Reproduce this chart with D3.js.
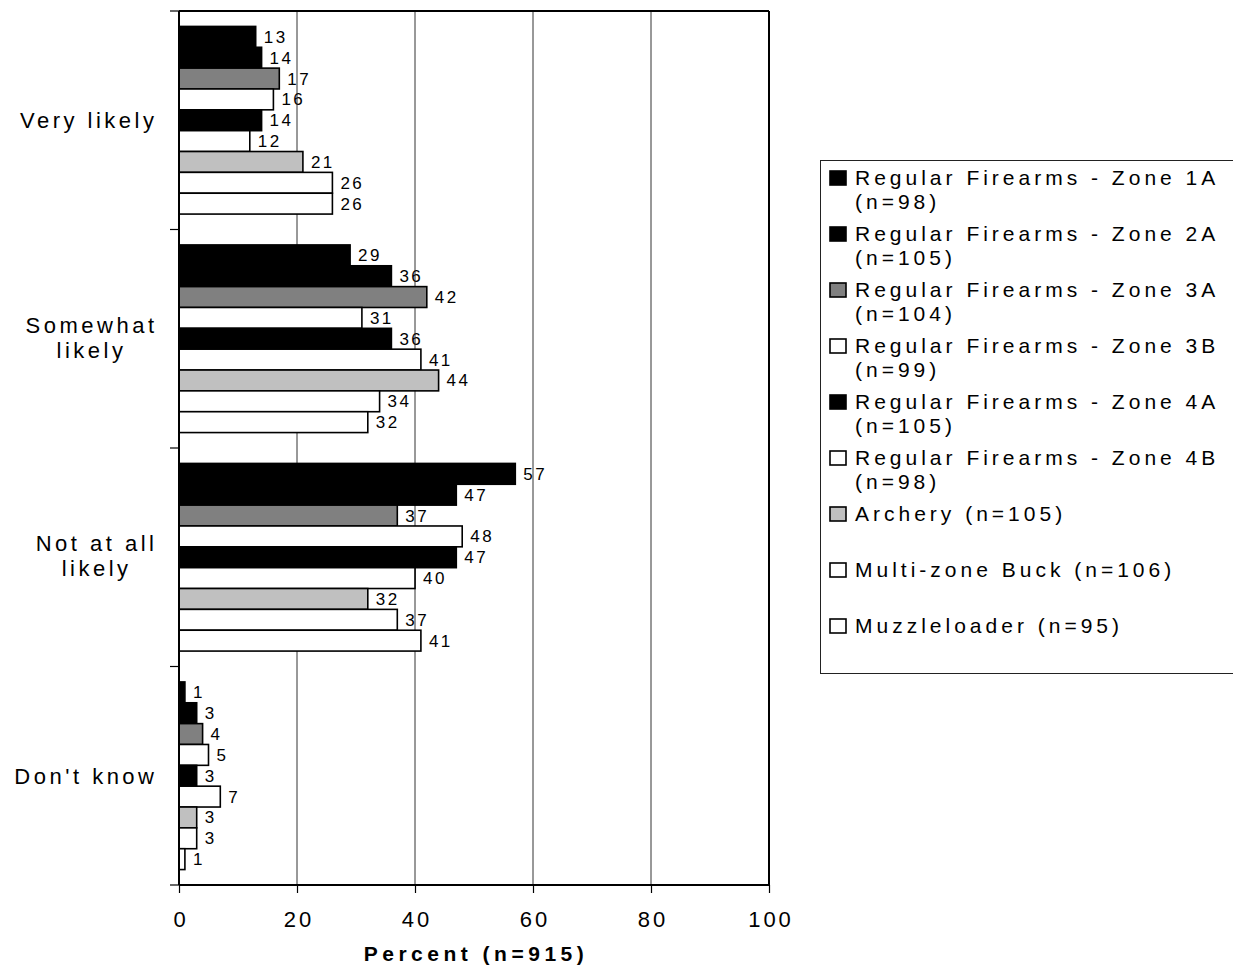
<!DOCTYPE html>
<html>
<head>
<meta charset="utf-8">
<script src="https://cdn.jsdelivr.net/npm/d3@7"></script>
<style>
  html, body { margin: 0; padding: 0; background: #fff; }
  svg { display: block; }
  text { font-family: Arial, "Liberation Sans", sans-serif; fill: #000; }
</style>
</head>
<body>
<svg id="chart" width="1233" height="967"></svg>
<script>
// ---- data ----
const categories = [["Very likely"], ["Somewhat", "likely"], ["Not at all", "likely"], ["Don't know"]];
const categoryKeys = ["Very likely", "Somewhat likely", "Not at all likely", "Don't know"];
const seriesNames = [
  "Regular Firearms - Zone 1A (n=98)",
  "Regular Firearms - Zone 2A (n=105)",
  "Regular Firearms - Zone 3A (n=104)",
  "Regular Firearms - Zone 3B (n=99)",
  "Regular Firearms - Zone 4A (n=105)",
  "Regular Firearms - Zone 4B (n=98)",
  "Archery (n=105)",
  "Multi-zone Buck (n=106)",
  "Muzzleloader (n=95)"
];
const zone1A = [13, 29, 57, 1];
const zone2A = [14, 36, 47, 3];
const zone3A = [17, 42, 37, 4];
const zone3B = [16, 31, 48, 5];
const zone4A = [14, 36, 47, 3];
const zone4B = [12, 41, 40, 7];
const archery = [21, 44, 32, 3];
const multiZoneBuck = [26, 34, 37, 3];
const muzzleloader = [26, 32, 41, 1];
const seriesValues = [zone1A, zone2A, zone3A, zone3B, zone4A, zone4B, archery, multiZoneBuck, muzzleloader];
const seriesFills = ["#000000", "#000000", "#808080", "#ffffff", "#000000", "#ffffff", "#c0c0c0", "#ffffff", "#ffffff"];
const xTicks = [0, 20, 40, 60, 80, 100];

// ---- layout ----
const svg = d3.select("#chart");
const plot = { left: 179, right: 769, top: 11, bottom: 885 };

const x = d3.scaleLinear().domain([0, 100]).range([plot.left, plot.right]);
const y = d3.scaleBand().domain(categoryKeys).range([plot.top, plot.bottom]).padding(0);
const ySub = d3.scaleBand().domain(d3.range(seriesNames.length))
  .range([0, y.bandwidth()]).paddingInner(0).paddingOuter(0.74);

// gridlines
svg.append("g").selectAll("line").data([20, 40, 60, 80]).join("line")
  .attr("x1", d => x(d)).attr("x2", d => x(d))
  .attr("y1", plot.top).attr("y2", plot.bottom)
  .attr("stroke", "#333").attr("stroke-width", 1);

// frame top & right
svg.append("line").attr("x1", plot.left).attr("x2", plot.right)
  .attr("y1", plot.top).attr("y2", plot.top).attr("stroke", "#000").attr("stroke-width", 2);
svg.append("line").attr("x1", plot.right).attr("x2", plot.right)
  .attr("y1", plot.top).attr("y2", plot.bottom).attr("stroke", "#000").attr("stroke-width", 2);

// bars
const rows = [];
categoryKeys.forEach((c, ci) => {
  seriesValues.forEach((vals, si) => {
    rows.push({ cat: c, si, v: vals[ci] });
  });
});

const barG = svg.append("g");
barG.selectAll("rect").data(rows).join("rect")
  .attr("x", x(0))
  .attr("y", d => y(d.cat) + ySub(d.si))
  .attr("width", d => x(d.v) - x(0))
  .attr("height", ySub.bandwidth())
  .attr("fill", d => seriesFills[d.si])
  .attr("stroke", "#000")
  .attr("stroke-width", 1.6);

barG.selectAll("text").data(rows).join("text")
  .attr("x", d => x(d.v) + 8)
  .attr("y", d => y(d.cat) + ySub(d.si) + ySub.bandwidth() / 2 + 6)
  .attr("font-size", 17)
  .attr("letter-spacing", 2.5)
  .text(d => d.v);

// x axis
const xAxis = svg.append("g").attr("transform", `translate(0,${plot.bottom})`)
  .call(d3.axisBottom(x).tickValues(xTicks).tickSize(8).tickPadding(16).tickFormat(d3.format("d")));
xAxis.select(".domain").attr("stroke-width", 2).attr("d", `M${plot.left},0H${plot.right}`);
xAxis.selectAll(".tick line").attr("stroke-width", 1.2);
xAxis.selectAll(".tick text")
  .attr("font-size", 22).attr("letter-spacing", 3)
  .attr("font-family", "Arial, 'Liberation Sans', sans-serif")
  .attr("dx", 1.5)
  .attr("dy", 18);

// y axis (ticks at category boundaries)
const yBounds = categoryKeys.map(c => y(c)).concat([plot.bottom]);
svg.append("line").attr("x1", plot.left).attr("x2", plot.left)
  .attr("y1", plot.top).attr("y2", plot.bottom).attr("stroke", "#000").attr("stroke-width", 2);
svg.append("g").selectAll("line").data(yBounds).join("line")
  .attr("x1", plot.left - 9).attr("x2", plot.left)
  .attr("y1", d => d).attr("y2", d => d)
  .attr("stroke", "#000").attr("stroke-width", 1.2);

// category labels: first line right-aligned, second line centred under it
const catG = svg.append("g");
const catLs = 3.5;
categories.forEach((lines, ci) => {
  const cy = y(categoryKeys[ci]) + y.bandwidth() / 2;
  const offsets = lines.length === 1 ? [8] : [-6, 19];
  const first = catG.append("text")
    .attr("x", 154 + catLs)
    .attr("y", cy + offsets[0])
    .attr("text-anchor", "end")
    .attr("font-size", 22)
    .attr("letter-spacing", catLs)
    .text(lines[0]);
  if (lines.length > 1) {
    const bb = first.node().getBBox();
    const cx = bb.x + (bb.width - catLs) / 2;
    catG.append("text")
      .attr("x", cx + catLs / 2)
      .attr("y", cy + offsets[1])
      .attr("text-anchor", "middle")
      .attr("font-size", 22)
      .attr("letter-spacing", catLs)
      .text(lines[1]);
  }
});

// axis title
svg.append("text")
  .attr("x", 476).attr("y", 961)
  .attr("text-anchor", "middle")
  .attr("font-size", 21).attr("font-weight", "bold")
  .attr("letter-spacing", 4.5)
  .text("Percent (n=915)");

// legend
const legend = svg.append("g");
legend.append("rect")
  .attr("x", 820.5).attr("y", 160.5).attr("width", 430).attr("height", 513)
  .attr("fill", "none").attr("stroke", "#222").attr("stroke-width", 1);

seriesNames.forEach((name, i) => {
  const base = 185 + i * 56;
  let lines;
  if (name.startsWith("Regular")) {
    const k = name.indexOf(" (");
    lines = [name.slice(0, k), name.slice(k + 1)];
  } else {
    lines = [name];
  }
  legend.append("rect")
    .attr("x", 830).attr("y", base - 14).attr("width", 16).attr("height", 14)
    .attr("fill", seriesFills[i]).attr("stroke", "#000").attr("stroke-width", 1.6);
  lines.forEach((ln, li) => {
    legend.append("text")
      .attr("x", 855).attr("y", base + li * 24)
      .attr("font-size", 21)
      .attr("letter-spacing", 4)
      .text(ln);
  });
});
</script>
</body>
</html>
